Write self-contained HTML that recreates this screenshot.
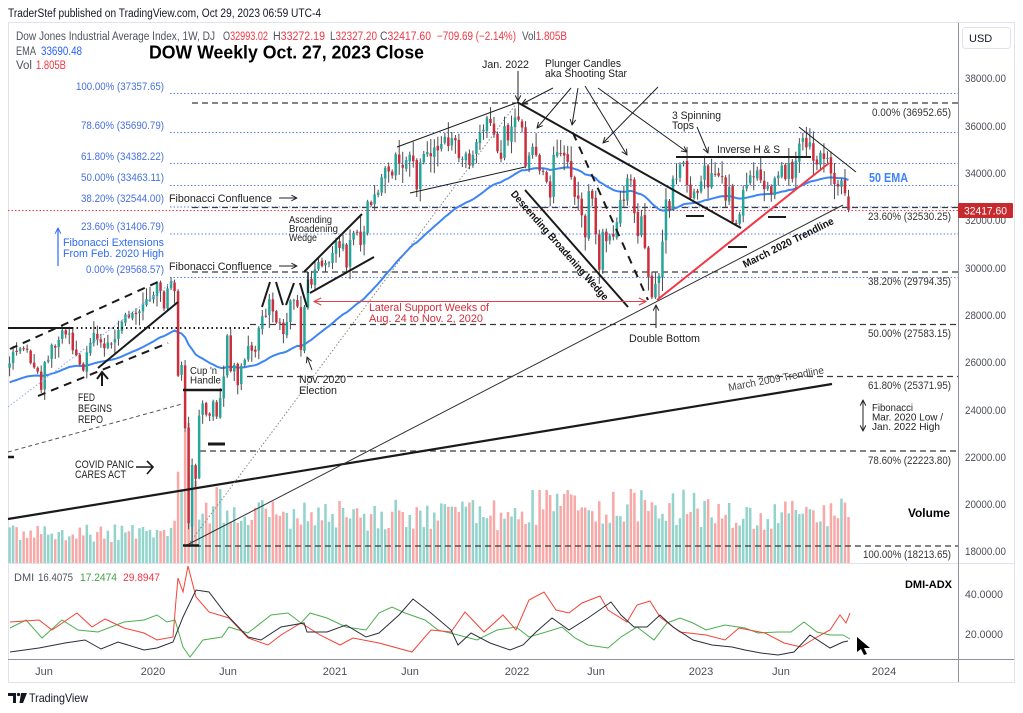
<!DOCTYPE html>
<html><head><meta charset="utf-8">
<style>
html,body{margin:0;padding:0;background:#fff;}
svg{display:block;font-family:"Liberation Sans",Arial,sans-serif;}
</style></head><body>
<svg width="1023" height="713" viewBox="0 0 1023 713" xmlns="http://www.w3.org/2000/svg">
<defs>
<marker id="ah" viewBox="0 0 10 10" refX="9" refY="5" markerWidth="7" markerHeight="7" markerUnits="userSpaceOnUse" orient="auto-start-reverse"><path d="M1,1 L9,5 L1,9" fill="none" stroke="#222" stroke-width="1.4"/></marker>
<marker id="ahr" viewBox="0 0 10 10" refX="9" refY="5" markerWidth="9" markerHeight="9" markerUnits="userSpaceOnUse" orient="auto-start-reverse"><path d="M1,1 L9,5 L1,9" fill="none" stroke="#e0404a" stroke-width="1.2"/></marker>
<marker id="ahb" viewBox="0 0 10 10" refX="9" refY="5" markerWidth="7" markerHeight="7" markerUnits="userSpaceOnUse" orient="auto-start-reverse"><path d="M1,1 L9,5 L1,9" fill="none" stroke="#2f6bf0" stroke-width="1.4"/></marker>
</defs>
<rect width="1023" height="713" fill="#fff"/>
<text x="8" y="17" font-size="11.5" fill="#131722" textLength="313" lengthAdjust="spacingAndGlyphs">TraderStef published on TradingView.com, Oct 29, 2023 06:59 UTC-4</text>
<rect x="8.5" y="22.5" width="1006" height="660" fill="none" stroke="#e0e3eb"/>

<g id="vol"></g>

<g stroke="#5b7ff0" stroke-width="1" stroke-dasharray="1.5 2">
<line x1="170" y1="93.5" x2="958" y2="93.5"/>
<line x1="170" y1="132.5" x2="958" y2="132.5"/>
<line x1="170" y1="163.5" x2="958" y2="163.5"/>
<line x1="170" y1="185.5" x2="958" y2="185.5"/>
<line x1="170" y1="207" x2="958" y2="207"/>
<line x1="170" y1="234" x2="958" y2="234"/>
<line x1="170" y1="277.5" x2="958" y2="277.5"/>
</g>
<g stroke="#3a3a3a" stroke-width="1.3" stroke-dasharray="6 4">
<line x1="192" y1="103" x2="958" y2="103"/>
<line x1="192" y1="207.5" x2="958" y2="207.5"/>
<line x1="192" y1="272" x2="958" y2="272"/>
<line x1="250" y1="324.5" x2="958" y2="324.5"/>
<line x1="247" y1="376.5" x2="958" y2="376.5"/>
<line x1="200" y1="451" x2="958" y2="451"/>
<line x1="185" y1="546" x2="958" y2="546"/>
</g>
<line x1="8" y1="210.5" x2="958" y2="210.5" stroke="#f23645" stroke-width="1" stroke-dasharray="1.5 2"/>

<polyline id="ema" fill="none" stroke="#3d85f5" stroke-width="2" points=""/>
<g id="cand"></g>

<g stroke="#1a1a1a" fill="none">
<line x1="8" y1="519" x2="832" y2="384" stroke-width="2.2"/>
<line x1="185" y1="546" x2="843" y2="205" stroke-width="1" stroke="#333"/>
<line x1="188" y1="545" x2="519" y2="100" stroke="#888" stroke-width="1" stroke-dasharray="1.5 2"/>
<line x1="8" y1="407" x2="175" y2="280" stroke="#8aa6ef" stroke-width="1" stroke-dasharray="1.5 2"/>
<line x1="8" y1="452" x2="182" y2="404" stroke="#555" stroke-width="1" stroke-dasharray="4 3"/>
<line x1="10" y1="349" x2="160" y2="281" stroke-width="2" stroke-dasharray="8 6"/>
<line x1="38" y1="396" x2="168" y2="343" stroke-width="2" stroke-dasharray="8 6"/>
<line x1="98" y1="368" x2="178" y2="302" stroke-width="2"/>
<line x1="8" y1="328" x2="72" y2="328" stroke-width="2"/>
<line x1="72" y1="328" x2="250" y2="328" stroke-width="2" stroke-dasharray="1.5 3"/>
<line x1="183" y1="390" x2="222" y2="390" stroke-width="2.5"/>
<line x1="208" y1="444" x2="225" y2="444" stroke-width="3"/>
<line x1="183" y1="545.5" x2="199" y2="545.5" stroke-width="2.5"/>
<line x1="8" y1="457" x2="14" y2="457" stroke-width="2.5"/>
<path d="M262,307 L270,282 M276,282 L283,305 M286,305 L294,283 M300,283 L307,307" stroke-width="2"/>
<line x1="304" y1="272" x2="362" y2="214" stroke-width="2"/>
<line x1="310" y1="293" x2="374" y2="257" stroke-width="2"/>
<line x1="308" y1="272" x2="308" y2="293" stroke-width="1.5"/>
<line x1="397" y1="147" x2="516" y2="103" stroke-width="1"/>
<line x1="410" y1="193" x2="525" y2="167" stroke-width="1"/>
<line x1="517" y1="102" x2="741" y2="228" stroke-width="2"/>
<line x1="525" y1="190" x2="628" y2="307" stroke-width="2"/>
<line x1="573" y1="133" x2="648" y2="300" stroke-width="2" stroke-dasharray="8 7"/>
<line x1="676" y1="157" x2="811" y2="157" stroke-width="2"/>
<path d="M686,216 H704 M768,217 H786 M728,247 H747" stroke-width="2"/>
<line x1="799" y1="127" x2="856" y2="172" stroke-width="1"/>
<path d="M102,386 L102,373 M97,379 L102,372 L108,379" stroke-width="2"/>
<path d="M136,467 H153 M147,461 L153,467 L147,474" stroke-width="1.6"/>
</g>
<line x1="657" y1="300" x2="829" y2="163" stroke="#f23645" stroke-width="2"/>

<g stroke="#222" stroke-width="1" fill="none">
<line x1="518" y1="71" x2="518" y2="101" marker-end="url(#ah)"/>
<line x1="553" y1="88" x2="522" y2="104" marker-end="url(#ah)"/>
<line x1="571" y1="88" x2="537" y2="128" marker-end="url(#ah)"/>
<line x1="578" y1="88" x2="572" y2="125" marker-end="url(#ah)"/>
<line x1="585" y1="86" x2="627" y2="155" marker-end="url(#ah)"/>
<line x1="598" y1="88" x2="687" y2="152" marker-end="url(#ah)"/>
<line x1="658" y1="87" x2="603" y2="143" marker-end="url(#ah)"/>
<line x1="697" y1="127" x2="708" y2="153" marker-end="url(#ah)"/>
<line x1="656" y1="328" x2="656" y2="305" marker-end="url(#ah)"/>
<line x1="312" y1="370" x2="307" y2="357" marker-end="url(#ah)"/>
<line x1="279" y1="198" x2="297" y2="198" marker-end="url(#ah)"/>
<line x1="279" y1="266" x2="297" y2="266" marker-end="url(#ah)"/>
<line x1="863" y1="400" x2="863" y2="431" marker-start="url(#ah)" marker-end="url(#ah)"/>
</g>
<line x1="314" y1="301.5" x2="646" y2="301.5" stroke="#e0404a" stroke-width="1" marker-start="url(#ahr)" marker-end="url(#ahr)"/>
<line x1="58" y1="266" x2="58" y2="228" stroke="#2f6bf0" stroke-width="1.2" marker-end="url(#ahb)"/>

<g font-size="11.5">
<text x="16" y="40" fill="#50535e" textLength="199" lengthAdjust="spacingAndGlyphs">Dow Jones Industrial Average Index, 1W, DJ</text>
<text x="223" y="40" textLength="45" lengthAdjust="spacingAndGlyphs"><tspan fill="#50535e">O</tspan><tspan fill="#f23645">32993.02</tspan></text>
<text x="273" y="40" textLength="52" lengthAdjust="spacingAndGlyphs"><tspan fill="#50535e">H</tspan><tspan fill="#f23645">33272.19</tspan></text>
<text x="330" y="40" textLength="47" lengthAdjust="spacingAndGlyphs"><tspan fill="#50535e">L</tspan><tspan fill="#f23645">32327.20</tspan></text>
<text x="380" y="40" textLength="51" lengthAdjust="spacingAndGlyphs"><tspan fill="#50535e">C</tspan><tspan fill="#f23645">32417.60</tspan></text>
<text x="437" y="40" fill="#f23645" textLength="79" lengthAdjust="spacingAndGlyphs">−709.69 (−2.14%)</text>
<text x="522" y="40" textLength="45" lengthAdjust="spacingAndGlyphs"><tspan fill="#50535e">Vol</tspan><tspan fill="#f23645">1.805B</tspan></text>
<text x="16" y="55" fill="#50535e" textLength="20" lengthAdjust="spacingAndGlyphs">EMA</text>
<text x="41" y="55" fill="#2962ff" textLength="41" lengthAdjust="spacingAndGlyphs">33690.48</text>
<text x="16" y="69" fill="#50535e" textLength="16" lengthAdjust="spacingAndGlyphs">Vol</text>
<text x="36" y="69" fill="#f23645" textLength="30" lengthAdjust="spacingAndGlyphs">1.805B</text>
</g>
<text x="149" y="58.5" font-size="18" font-weight="bold" fill="#000" textLength="275" lengthAdjust="spacingAndGlyphs">DOW Weekly Oct. 27, 2023 Close</text>

<g font-size="11" fill="#4470e0" text-anchor="end">
<text x="164" y="90" textLength="88" lengthAdjust="spacingAndGlyphs">100.00% (37357.65)</text>
<text x="164" y="129" textLength="83" lengthAdjust="spacingAndGlyphs">78.60% (35690.79)</text>
<text x="164" y="160" textLength="83" lengthAdjust="spacingAndGlyphs">61.80% (34382.22)</text>
<text x="164" y="181" textLength="83" lengthAdjust="spacingAndGlyphs">50.00% (33463.11)</text>
<text x="164" y="202" textLength="83" lengthAdjust="spacingAndGlyphs">38.20% (32544.00)</text>
<text x="164" y="230" textLength="83" lengthAdjust="spacingAndGlyphs">23.60% (31406.79)</text>
<text x="164" y="273" textLength="78" lengthAdjust="spacingAndGlyphs">0.00% (29568.57)</text>
</g>
<g font-size="11" fill="#2f6bf0">
<text x="63" y="246" textLength="101" lengthAdjust="spacingAndGlyphs">Fibonacci Extensions</text>
<text x="63" y="257" textLength="101" lengthAdjust="spacingAndGlyphs">From Feb. 2020 High</text>
</g>

<g font-size="11" fill="#333" text-anchor="end">
<text x="951" y="116" textLength="79" lengthAdjust="spacingAndGlyphs">0.00% (36952.65)</text>
<text x="951" y="220" textLength="83" lengthAdjust="spacingAndGlyphs">23.60% (32530.25)</text>
<text x="951" y="285" textLength="83" lengthAdjust="spacingAndGlyphs">38.20% (29794.35)</text>
<text x="951" y="337" textLength="83" lengthAdjust="spacingAndGlyphs">50.00% (27583.15)</text>
<text x="951" y="389" textLength="83" lengthAdjust="spacingAndGlyphs">61.80% (25371.95)</text>
<text x="951" y="464" textLength="83" lengthAdjust="spacingAndGlyphs">78.60% (22223.80)</text>
<text x="951" y="558" textLength="88" lengthAdjust="spacingAndGlyphs">100.00% (18213.65)</text>
</g>

<g font-size="11" fill="#222">
<text x="169" y="202" textLength="103" lengthAdjust="spacingAndGlyphs">Fibonacci Confluence</text>
<text x="169" y="270" textLength="103" lengthAdjust="spacingAndGlyphs">Fibonacci Confluence</text>
<text x="482" y="68" textLength="47" lengthAdjust="spacingAndGlyphs">Jan. 2022</text>
<text x="545" y="67" textLength="76" lengthAdjust="spacingAndGlyphs">Plunger Candles</text>
<text x="545" y="77" textLength="82" lengthAdjust="spacingAndGlyphs">aka Shooting Star</text>
<text x="672" y="119" textLength="49" lengthAdjust="spacingAndGlyphs">3 Spinning</text>
<text x="672" y="129" textLength="22" lengthAdjust="spacingAndGlyphs">Tops</text>
<text x="717" y="153" textLength="63" lengthAdjust="spacingAndGlyphs">Inverse H &amp; S</text>
<text x="629" y="342" textLength="71" lengthAdjust="spacingAndGlyphs">Double Bottom</text>
<text x="78" y="401" textLength="17" lengthAdjust="spacingAndGlyphs">FED</text>
<text x="78" y="412" textLength="34" lengthAdjust="spacingAndGlyphs">BEGINS</text>
<text x="78" y="423" textLength="25" lengthAdjust="spacingAndGlyphs">REPO</text>
<text x="75" y="468" textLength="59" lengthAdjust="spacingAndGlyphs">COVID PANIC</text>
<text x="75" y="478" textLength="51" lengthAdjust="spacingAndGlyphs">CARES ACT</text>
<text x="299" y="383" textLength="47" lengthAdjust="spacingAndGlyphs">Nov. 2020</text>
<text x="299" y="394" textLength="38" lengthAdjust="spacingAndGlyphs">Election</text>
</g>
<g font-size="10.5" fill="#222">
<text x="289" y="223" textLength="43" lengthAdjust="spacingAndGlyphs">Ascending</text>
<text x="289" y="232" textLength="49" lengthAdjust="spacingAndGlyphs">Broadening</text>
<text x="289" y="241" textLength="28" lengthAdjust="spacingAndGlyphs">Wedge</text>
<text x="190" y="374" textLength="27" lengthAdjust="spacingAndGlyphs">Cup 'n</text>
<text x="190" y="383.5" textLength="31" lengthAdjust="spacingAndGlyphs">Handle</text>
<text x="872" y="411" textLength="41" lengthAdjust="spacingAndGlyphs">Fibonacci</text>
<text x="872" y="420.5" textLength="71" lengthAdjust="spacingAndGlyphs">Mar. 2020 Low /</text>
<text x="872" y="430" textLength="68" lengthAdjust="spacingAndGlyphs">Jan. 2022 High</text>
</g>
<g font-size="11" fill="#d12d3a">
<text x="369" y="311" textLength="120" lengthAdjust="spacingAndGlyphs">Lateral Support Weeks of</text>
<text x="369" y="322" textLength="114" lengthAdjust="spacingAndGlyphs">Aug. 24 to Nov. 2, 2020</text>
</g>
<text transform="translate(513,192) rotate(48.7)" dy="0.35em" font-size="10.5" font-weight="bold" fill="#111" textLength="142" lengthAdjust="spacingAndGlyphs">Descending Broadening Wedge</text>
<text transform="translate(745,268) rotate(-26.5)" font-size="10.5" font-weight="bold" fill="#111" textLength="100" lengthAdjust="spacingAndGlyphs">March 2020 Trendline</text>
<text transform="translate(729,391) rotate(-10.5)" font-size="10.5" fill="#444" textLength="97" lengthAdjust="spacingAndGlyphs">March 2009 Trendline</text>
<text x="869" y="182" font-size="13" font-weight="bold" fill="#3d85f5" textLength="39" lengthAdjust="spacingAndGlyphs">50 EMA</text>
<text x="950" y="517" font-size="12" font-weight="bold" fill="#000" text-anchor="end" textLength="42" lengthAdjust="spacingAndGlyphs">Volume</text>

<line x1="8" y1="563.5" x2="1014" y2="563.5" stroke="#e0e3eb"/>
<line x1="8" y1="659.5" x2="1014" y2="659.5" stroke="#8f929b"/>
<line x1="958.5" y1="23" x2="958.5" y2="682" stroke="#8f929b"/>

<g font-size="11" fill="#4c4f57">
<text x="965" y="82" textLength="41" lengthAdjust="spacingAndGlyphs">38000.00</text>
<text x="965" y="130" textLength="41" lengthAdjust="spacingAndGlyphs">36000.00</text>
<text x="965" y="177" textLength="41" lengthAdjust="spacingAndGlyphs">34000.00</text>
<text x="965" y="224" textLength="41" lengthAdjust="spacingAndGlyphs">32000.00</text>
<text x="965" y="272" textLength="41" lengthAdjust="spacingAndGlyphs">30000.00</text>
<text x="965" y="319" textLength="41" lengthAdjust="spacingAndGlyphs">28000.00</text>
<text x="965" y="366" textLength="41" lengthAdjust="spacingAndGlyphs">26000.00</text>
<text x="965" y="414" textLength="41" lengthAdjust="spacingAndGlyphs">24000.00</text>
<text x="965" y="461" textLength="41" lengthAdjust="spacingAndGlyphs">22000.00</text>
<text x="965" y="508" textLength="41" lengthAdjust="spacingAndGlyphs">20000.00</text>
<text x="965" y="555" textLength="41" lengthAdjust="spacingAndGlyphs">18000.00</text>
<text x="965" y="598" textLength="38" lengthAdjust="spacingAndGlyphs">40.0000</text>
<text x="965" y="638" textLength="38" lengthAdjust="spacingAndGlyphs">20.0000</text>
</g>
<rect x="958" y="203" width="55" height="15" rx="1" fill="#c62a2f"/>
<text x="985.5" y="214.5" font-size="11" fill="#fff" text-anchor="middle" textLength="43" lengthAdjust="spacingAndGlyphs">32417.60</text>
<rect x="962.5" y="27.5" width="48" height="21" rx="3" fill="#fff" stroke="#e0e3eb"/>
<text x="969" y="42" font-size="11" fill="#131722">USD</text>

<g font-size="11" fill="#4c4f57" text-anchor="middle">
<text x="44" y="675">Jun</text>
<text x="153" y="675">2020</text>
<text x="228" y="675">Jun</text>
<text x="335" y="675">2021</text>
<text x="410" y="675">Jun</text>
<text x="517" y="675">2022</text>
<text x="596" y="675">Jun</text>
<text x="701" y="675">2023</text>
<text x="781" y="675">Jun</text>
<text x="884" y="675">2024</text>
</g>

<g fill="none" stroke-width="1">
<polyline stroke="#4caf50" points="10,628 26,620 42,638 62,620 78,630 98,632 124,622 144,620 157,615 167,622 175,620 183,647 190,657 203,640 222,637 229,627 248,633 271,615 288,613 301,623 310,613 327,618 346,627 366,630 379,613 392,607 405,613 425,620 438,630 458,635 477,640 497,630 516,627 529,637 546,632 562,627 575,638 588,645 608,648 621,637 637,627 654,640 667,623 680,618 693,623 706,630 725,625 745,628 758,633 778,632 791,632 804,622 817,632 830,635 843,635 850,639"/>
<polyline stroke="#f44336" points="10,622 39,620 52,630 77,613 92,627 105,619 124,628 144,633 157,640 173,637 176,600 178,578 183,592 188,566 196,597 209,612 229,618 248,638 268,645 281,635 301,623 320,635 340,645 353,638 379,643 412,652 431,630 451,632 465,612 484,632 503,615 516,630 529,600 544,592 556,610 569,613 582,603 600,596 608,610 627,622 637,605 650,601 660,617 680,632 706,635 725,640 739,628 765,633 784,643 801,647 817,637 830,630 840,615 846,623 850,613"/>
<polyline stroke="#2a2e39" points="10,652 39,648 65,643 85,640 101,649 118,642 144,650 157,648 173,642 183,617 196,590 209,592 225,613 248,637 261,640 281,627 304,623 307,632 327,632 346,625 366,637 379,633 399,615 413,599 431,613 451,630 458,645 471,633 490,643 510,650 523,645 536,632 552,618 569,630 588,618 611,602 621,615 634,627 647,627 660,615 673,627 693,640 712,645 732,647 745,650 761,653 778,655 794,652 810,635 830,648 843,642 848,641"/>
</g>
<polygon points="857,637 870,648 864,648 867,654 864,655 861,649 857,652" fill="#000"/>
<g font-size="11">
<text x="14" y="581" fill="#50535e">DMI</text>
<text x="38" y="581" fill="#50535e" textLength="35" lengthAdjust="spacingAndGlyphs">16.4075</text>
<text x="80" y="581" fill="#43a047" textLength="37" lengthAdjust="spacingAndGlyphs">17.2474</text>
<text x="123" y="581" fill="#f23645" textLength="37" lengthAdjust="spacingAndGlyphs">29.8947</text>
</g>
<text x="952" y="588" font-size="11" font-weight="bold" fill="#000" text-anchor="end" textLength="47" lengthAdjust="spacingAndGlyphs">DMI-ADX</text>

<path d="M8,693 H16 V703 H13 V696 H8 Z" fill="#131722"/>
<circle cx="18.5" cy="694.5" r="1.6" fill="#131722"/>
<path d="M21,693 H27 L23,703 H19.5 Z" fill="#131722"/>
<text x="29" y="702" font-size="12" fill="#131722" textLength="59" lengthAdjust="spacingAndGlyphs">TradingView</text>
</svg>
<script>
(function(){
var C=[25929,26425,26412,26559,26543,26505,25942,25764,25585,24815,25984,26090,26719,26600,26922,27332,27154,27192,26485,26287,25886,25629,26403,26797,27220,26935,26820,26573,26817,26770,26958,27347,27681,28005,27876,28051,28015,28135,28455,28645,
28634,28823,29348,28989,28256,29102,29398,28992,25409,25864,23186,19174,21637,21053,23719,24242,23775,23723,24331,23685,24465,25383,27111,25605,25871,25016,25827,26075,26672,26469,26428,27433,27931,27930,28653,28133,27666,27657,27174,27682,28586,28606,28335,26502,28323,29479,29263,29910,30218,30046,30179,30199,30606,
31098,30814,30997,29983,31148,31458,31494,30932,31496,32779,32628,33073,33153,33800,34200,34043,33875,34778,34382,34208,34529,34756,34480,33290,34433,34786,34870,34687,35061,34935,35208,35515,35120,35455,35369,34607,34584,34798,34326,34746,35295,35677,35820,36328,36100,35602,34899,34580,35971,35365,35951,36338,
36231,35911,34265,34725,35089,34738,34079,34058,33614,32944,34754,34861,34818,34721,34451,33811,32977,32899,32196,31262,33212,32899,31393,29888,31500,31097,31338,31288,31899,32845,32803,33761,33706,32283,31318,32151,30822,29590,28725,29296,29634,31082,32861,32403,33747,33746,34347,34430,33476,32920,33203,33147,
33630,34303,33375,33978,33926,33869,33827,32817,33391,31910,31862,32238,33274,33486,33886,33809,34098,33674,33300,33427,33093,33762,33876,34299,33727,34407,33734,34509,35228,35459,35066,35281,34500,34346,34837,34576,34618,33964,33507,33407,33670,33127,32418];
var X0=9.6,DX=3.51,n=C.length;
function Y(p){return 551-(p-18000)*0.02365;}
var s=987654;function r(){s=(s*16807)%2147483647;return s/2147483647;}
var O=[],H=[],L=[],i;
for(i=0;i<n;i++){var c=C[i];var o=i?C[i-1]*(1+(r()-0.5)*0.004):25750;O[i]=o;
 var a=r(),b=r();H[i]=Math.max(o,c)*(1+0.002+a*a*0.018);L[i]=Math.min(o,c)*(1-0.002-b*b*0.018);}
O[52]=19028;L[52]=18213;L[51]=18917;H[46]=29568;H[145]=36952;L[185]=28660;H[226]=35679;O[239]=32993;H[239]=33272;L[239]=32327;
function vb(i){var sp={48:95,49:88,50:118,51:135,52:100,53:78};if(sp[i])return sp[i];if(i<46)return 32;if(i<48)return 42;if(i<61)return 62;if(i<145)return 52;if(i<197)return 60;return 52;}
var v='',g='',e='',ema=25100,k=2/51;
for(i=0;i<n;i++){var x=X0+i*DX,up=C[i]>=O[i];
 var h=vb(i)*(0.62+0.62*r());
 v+='<rect x="'+(x-1.25).toFixed(2)+'" y="'+(563-h).toFixed(1)+'" width="2.5" height="'+h.toFixed(1)+'" fill="'+(up?'#92d3cc':'#f8a9a7')+'"/>';
 var yo=Y(O[i]),yc=Y(C[i]),t=Math.min(yo,yc),hh=Math.max(Math.abs(yo-yc),1);
 var col=up?'#26a69a':'#cc2f3b';
 g+='<line x1="'+x.toFixed(2)+'" x2="'+x.toFixed(2)+'" y1="'+Y(H[i]).toFixed(1)+'" y2="'+Y(L[i]).toFixed(1)+'" stroke="#4a4a4a" stroke-width="1"/>';
 g+='<rect x="'+(x-1.25).toFixed(2)+'" y="'+t.toFixed(1)+'" width="2.5" height="'+hh.toFixed(1)+'" fill="'+col+'"/>';
 ema+=(C[i]-ema)*k; e+=x.toFixed(1)+','+Y(ema).toFixed(1)+' ';
}
document.getElementById('vol').innerHTML=v;
document.getElementById('cand').innerHTML=g;
document.getElementById('ema').setAttribute('points',e);
})();
</script>
</body></html>
